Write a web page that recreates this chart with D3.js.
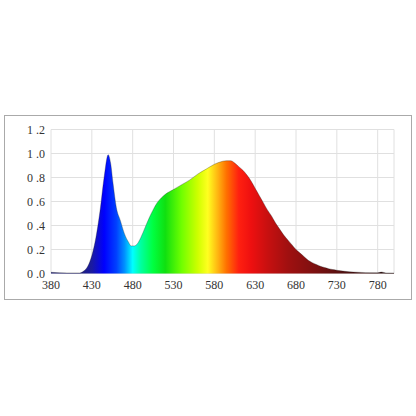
<!DOCTYPE html>
<html><head><meta charset="utf-8">
<script src="https://cdn.jsdelivr.net/npm/d3@7"></script>
<style>body{margin:0;background:#fff}</style>
</head><body><div id="chart"></div>
<script>
// spectrum data (wavelength nm, relative intensity)
var wavelengths = [380,400,415,420,425,430,435,440,445,450,453,456,460,465,470,475,478,482,486,490,495,500,505,510,515,520,530,540,550,560,570,580,590,595,600,605,610,615,620,625,630,635,640,645,650,655,660,665,670,675,680,685,690,695,700,705,710,715,720,725,730,735,740,750,760,770,780,785,790,800];
var intensity   = [0.01,0.005,0.005,0.02,0.06,0.15,0.3,0.52,0.8,0.99,0.92,0.75,0.55,0.44,0.33,0.26,0.23,0.23,0.25,0.3,0.38,0.46,0.53,0.59,0.63,0.66,0.70,0.74,0.78,0.83,0.87,0.91,0.935,0.94,0.94,0.92,0.89,0.86,0.82,0.77,0.71,0.65,0.59,0.53,0.48,0.42,0.37,0.32,0.28,0.24,0.20,0.17,0.14,0.11,0.09,0.075,0.06,0.05,0.04,0.033,0.027,0.022,0.018,0.012,0.009,0.007,0.006,0.012,0.005,0.004];
var xTicks = [380,430,480,530,580,630,680,730,780];
var yTicks = [0,0.2,0.4,0.6,0.8,1.0,1.2];
// colour stops by wavelength
var stopNm  = [415,430,445,460,470,480,490,505,520,540,560,572,585,595,610,625,645,670,700,740,790];
var stopCol = ["#20207a","#1a1aa0","#0000ff","#0040ff","#0090ff","#00ffff","#00ffa0","#00ff40","#10e010","#70ff00","#d0ff00","#ffff20","#ffb010","#ff7000","#ff2010","#ee1010","#c81010","#a01010","#801010","#501010","#301010"];

var svg = d3.select("#chart").append("svg").attr("width",416).attr("height",416);
svg.append("rect").attr("x",4.5).attr("y",115.5).attr("width",407).attr("height",184)
  .attr("fill","#fff").attr("stroke","#aaa");

var x = d3.scaleLinear().domain([380,800]).range([51,394]);
var y = d3.scaleLinear().domain([0,1.2]).range([273.5,129.5]);

var grad = svg.append("defs").append("linearGradient").attr("id","spec")
  .attr("gradientUnits","userSpaceOnUse").attr("x1",x(380)).attr("x2",x(800)).attr("y1",0).attr("y2",0);
stopNm.forEach(function(nm,i){
  grad.append("stop").attr("offset",(nm-380)/420).attr("stop-color",stopCol[i]);
});

var g = svg.append("g");
g.selectAll(".gx").data(xTicks.concat([800])).enter().append("line")
  .attr("x1",d=>x(d)).attr("x2",d=>x(d)).attr("y1",y(1.2)).attr("y2",y(0))
  .attr("stroke","#e0e0e0");
g.selectAll(".gy").data(yTicks).enter().append("line")
  .attr("x1",x(380)).attr("x2",x(800)).attr("y1",d=>y(d)).attr("y2",d=>y(d))
  .attr("stroke","#e0e0e0");

var data = wavelengths.map((w,i)=>[w,intensity[i]]);
var area = d3.area().x(d=>x(d[0])).y0(y(0)).y1(d=>y(d[1])).curve(d3.curveMonotoneX);
g.append("path").datum(data).attr("d",area).attr("fill","url(#spec)");
g.append("path").datum(data).attr("d",d3.line().x(d=>x(d[0])).y(d=>y(d[1])).curve(d3.curveMonotoneX))
  .attr("fill","none").attr("stroke","#222").attr("stroke-width",0.6).attr("opacity",0.5);

var font = "'Liberation Serif','DejaVu Serif',serif";
svg.selectAll(".yl").data(yTicks).enter().append("text")
  .attr("x",45).attr("y",d=>y(d)+4).attr("text-anchor","end")
  .attr("font-family",font).attr("font-size",12).attr("fill","#333")
  .text(d=>d.toFixed(1).replace("."," ."));
svg.selectAll(".xl").data(xTicks).enter().append("text")
  .attr("x",d=>x(d)).attr("y",289).attr("text-anchor","middle")
  .attr("font-family",font).attr("font-size",12).attr("fill","#333")
  .text(d=>d);
</script></body></html>
